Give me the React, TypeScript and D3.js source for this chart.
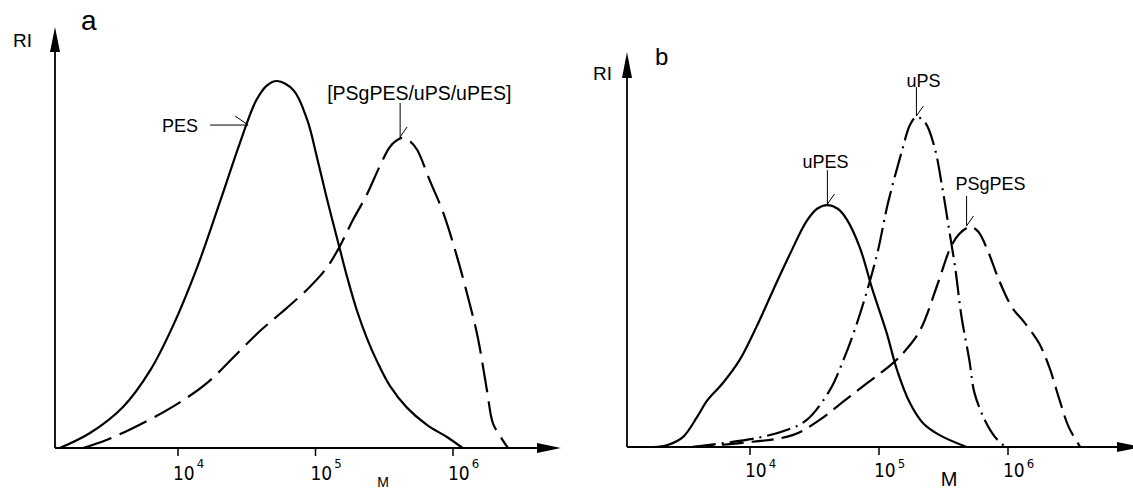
import React from 'react';
import * as d3 from 'd3';

// ---------- Panel a ----------
const pesLogM = [3.14, 3.36, 3.6, 3.8, 3.96, 4.14, 4.31, 4.45, 4.57, 4.65, 4.72, 4.84, 4.94, 5.01, 5.08, 5.16, 5.23, 5.3, 5.375, 5.45, 5.54, 5.665, 5.81, 5.956, 6.07];
const pesRI = [0, 0.041, 0.112, 0.213, 0.33, 0.493, 0.676, 0.831, 0.948, 0.989, 1.0, 0.975, 0.894, 0.793, 0.684, 0.567, 0.466, 0.376, 0.298, 0.234, 0.17, 0.11, 0.063, 0.03, 0];

const blendLogM = [3.31, 3.48, 3.67, 3.96, 4.21, 4.45, 4.6, 4.74, 4.94, 5.08, 5.18, 5.27, 5.37, 5.47, 5.54, 5.59, 5.63, 5.69, 5.74, 5.83, 5.93, 6.03, 6.12, 6.18, 6.25, 6.29, 6.36, 6.4];
const blendRI = [0, 0.022, 0.054, 0.112, 0.177, 0.265, 0.32, 0.365, 0.432, 0.49, 0.552, 0.62, 0.688, 0.77, 0.82, 0.838, 0.845, 0.835, 0.812, 0.73, 0.64, 0.52, 0.395, 0.302, 0.15, 0.068, 0.022, 0];

// ---------- Panel b ----------
const upesLogM = [3.25, 3.36, 3.48, 3.59, 3.67, 3.79, 3.92, 4.05, 4.18, 4.31, 4.44, 4.52, 4.6, 4.68, 4.75, 4.85, 4.95, 5.06, 5.14, 5.24, 5.34, 5.47, 5.68];
const upesRI = [0, 0.006, 0.03, 0.091, 0.142, 0.194, 0.264, 0.364, 0.476, 0.585, 0.685, 0.722, 0.733, 0.722, 0.69, 0.606, 0.476, 0.345, 0.233, 0.133, 0.073, 0.036, 0];

const upsLogM = [3.55, 4.05, 4.29, 4.44, 4.62, 4.71, 4.83, 4.98, 5.07, 5.18, 5.24, 5.29, 5.36, 5.43, 5.49, 5.54, 5.59, 5.64, 5.7, 5.74, 5.82, 5.9, 5.98];
const upsRI = [0, 0.027, 0.052, 0.082, 0.173, 0.25, 0.376, 0.576, 0.74, 0.9, 0.976, 1.0, 0.982, 0.909, 0.788, 0.667, 0.545, 0.394, 0.264, 0.164, 0.082, 0.03, 0];

const psgLogM = [3.55, 3.92, 4.33, 4.54, 4.67, 4.78, 4.91, 5.11, 5.21, 5.32, 5.46, 5.55, 5.62, 5.71, 5.77, 5.85, 5.93, 6.03, 6.13, 6.24, 6.32, 6.4, 6.47, 6.56];
const psgRI = [0, 0.012, 0.036, 0.082, 0.121, 0.155, 0.194, 0.255, 0.295, 0.355, 0.5, 0.6, 0.645, 0.667, 0.652, 0.588, 0.506, 0.424, 0.376, 0.315, 0.242, 0.142, 0.061, 0];

const tickExponents = [4, 5, 6];
const panelALabels = ['a', 'PES', '[PSgPES/uPS/uPES]'];
const panelBLabels = ['b', 'uPES', 'uPS', 'PSgPES'];
const axisLabels = ['RI', 'M'];

const FONT = "'Liberation Sans', 'DejaVu Sans', sans-serif";
const NARROW = "'Liberation Sans Narrow', 'DejaVu Sans Condensed', 'Liberation Sans', sans-serif";

type Pt = [number, number];
const zip = (xs: number[], ys: number[]): Pt[] => xs.map((x, i) => [x, ys[i]]);

function peak(xs: number[], ys: number[]): Pt {
  let k = 0;
  ys.forEach((v, i) => { if (v > ys[k]) k = i; });
  return [xs[k], ys[k]];
}

function Axes({ x0, y0, xEnd, yTop, arrowX, arrowY }: { x0: number; y0: number; xEnd: number; yTop: number; arrowX: number; arrowY: number }) {
  return (
    <g>
      <line x1={x0} y1={y0} x2={arrowX} y2={y0} stroke="#000" strokeWidth={1.8} />
      <line x1={x0} y1={y0} x2={x0} y2={arrowY} stroke="#000" strokeWidth={1.8} />
      <path d={`M${arrowX},${y0 - 5} L${xEnd},${y0} L${arrowX},${y0 + 5} Z`} fill="#000" />
      <path d={`M${x0 - 5},${arrowY} L${x0},${yTop} L${x0 + 5},${arrowY} Z`} fill="#000" />
    </g>
  );
}

function Ticks({ x, y0, base, supDy }: { x: d3.ScaleLinear<number, number>; y0: number; base: number; supDy: number }) {
  return (
    <g>
      {tickExponents.map((e) => (
        <g key={e}>
          <line x1={x(e)} x2={x(e)} y1={y0} y2={y0 + 8} stroke="#000" strokeWidth={1.5} />
          <text x={x(e) - 5} y={base} fontFamily={NARROW} fontSize={19} fill="#000">
            10<tspan dx={2} dy={supDy} fontSize={13}>{e}</tspan>
          </text>
        </g>
      ))}
    </g>
  );
}

function Pointer({ tx, ty, len }: { tx: number; ty: number; len: number }) {
  return (
    <g stroke="#000" strokeWidth={1} fill="none">
      <line x1={tx} y1={ty - len} x2={tx} y2={ty} />
      <line x1={tx + 7} y1={ty - 10} x2={tx} y2={ty} />
    </g>
  );
}

export default function App() {
  // Panel a scales
  const xA = d3.scaleLinear().domain([4, 6]).range([178, 453]);
  const yA = d3.scaleLinear().domain([0, 1]).range([448, 81]);
  // Panel b scales
  const xB = d3.scaleLinear().domain([4, 6]).range([750, 1008]);
  const yB = d3.scaleLinear().domain([0, 1]).range([447, 117]);

  const curve = d3.curveCatmullRom.alpha(0.5);
  const lineA = d3.line<Pt>().x((d) => xA(d[0])).y((d) => Math.min(yA(0), yA(d[1]))).curve(curve);
  const lineB = d3.line<Pt>().x((d) => xB(d[0])).y((d) => Math.min(yB(0), yB(d[1]))).curve(curve);

  const blendPk = peak(blendLogM, blendRI);
  const upesPk = peak(upesLogM, upesRI);
  const upsPk = peak(upsLogM, upsRI);
  const psgPk = peak(psgLogM, psgRI);

  // point on PES rising flank for its arrow
  const pesArrowX = xA(4.51);
  const pesArrowY = yA(0.88);

  return (
    <svg width={1133} height={491} style={{ position: 'absolute', left: 0, top: 0, background: '#fff' }}>
      <rect x={0} y={0} width={1133} height={491} fill="#fff" />

      {/* ---------------- Panel a ---------------- */}
      <Axes x0={55} y0={448} xEnd={561} yTop={27} arrowX={537} arrowY={52} />
      <Ticks x={xA} y0={448} base={480} supDy={-12} />
      <text x={13} y={47} fontFamily={FONT} fontSize={19} fill="#000">{axisLabels[0]}</text>
      <text x={383} y={487} fontFamily={FONT} fontSize={14} textAnchor="middle" fill="#000">{axisLabels[1]}</text>
      <text x={81} y={30} fontFamily={FONT} fontSize={28} fill="#000">{panelALabels[0]}</text>

      <path d={lineA(zip(pesLogM, pesRI)) || ''} fill="none" stroke="#000" strokeWidth={2.2} />
      <path d={lineA(zip(blendLogM, blendRI)) || ''} fill="none" stroke="#000" strokeWidth={2.2} strokeDasharray="30 9" />

      <text x={162} y={132} fontFamily={FONT} fontSize={18} fill="#000">{panelALabels[1]}</text>
      <g stroke="#000" strokeWidth={1} fill="none">
        <line x1={pesArrowX - 38} y1={pesArrowY} x2={pesArrowX} y2={pesArrowY} />
        <line x1={pesArrowX - 13} y1={pesArrowY - 9} x2={pesArrowX} y2={pesArrowY} />
      </g>

      <text x={xA(blendPk[0]) - 75} y={100} fontFamily={FONT} fontSize={19.5} fill="#000">{panelALabels[2]}</text>
      <Pointer tx={xA(blendPk[0]) - 2} ty={yA(blendPk[1]) - 1} len={34} />

      {/* ---------------- Panel b ---------------- */}
      <Axes x0={627} y0={447} xEnd={1142} yTop={52} arrowX={1117} arrowY={78} />
      <Ticks x={xB} y0={447} base={477} supDy={-9} />
      <text x={593} y={80} fontFamily={FONT} fontSize={19} fill="#000">{axisLabels[0]}</text>
      <text x={949} y={486} fontFamily={FONT} fontSize={20} textAnchor="middle" fill="#000">{axisLabels[1]}</text>
      <text x={655} y={65} fontFamily={FONT} fontSize={24} fill="#000">{panelBLabels[0]}</text>

      <path d={lineB(zip(upesLogM, upesRI)) || ''} fill="none" stroke="#000" strokeWidth={2.2} />
      <path d={lineB(zip(upsLogM, upsRI)) || ''} fill="none" stroke="#000" strokeWidth={2.2} strokeDasharray="24 6 2 6" />
      <path d={lineB(zip(psgLogM, psgRI)) || ''} fill="none" stroke="#000" strokeWidth={2.2} strokeDasharray="22 8" />

      <text x={xB(upesPk[0]) - 25} y={168} fontFamily={FONT} fontSize={18} fill="#000">{panelBLabels[1]}</text>
      <Pointer tx={xB(upesPk[0])} ty={yB(upesPk[1]) - 1} len={34} />

      <text x={xB(upsPk[0]) - 10} y={87} fontFamily={FONT} fontSize={18} fill="#000">{panelBLabels[2]}</text>
      <Pointer tx={xB(upsPk[0])} ty={yB(upsPk[1]) - 1} len={29} />

      <text x={xB(psgPk[0]) - 15} y={190} fontFamily={FONT} fontSize={18} fill="#000">{panelBLabels[3]}</text>
      <Pointer tx={xB(psgPk[0]) - 4} ty={yB(psgPk[1]) - 1} len={30} />
    </svg>
  );
}
